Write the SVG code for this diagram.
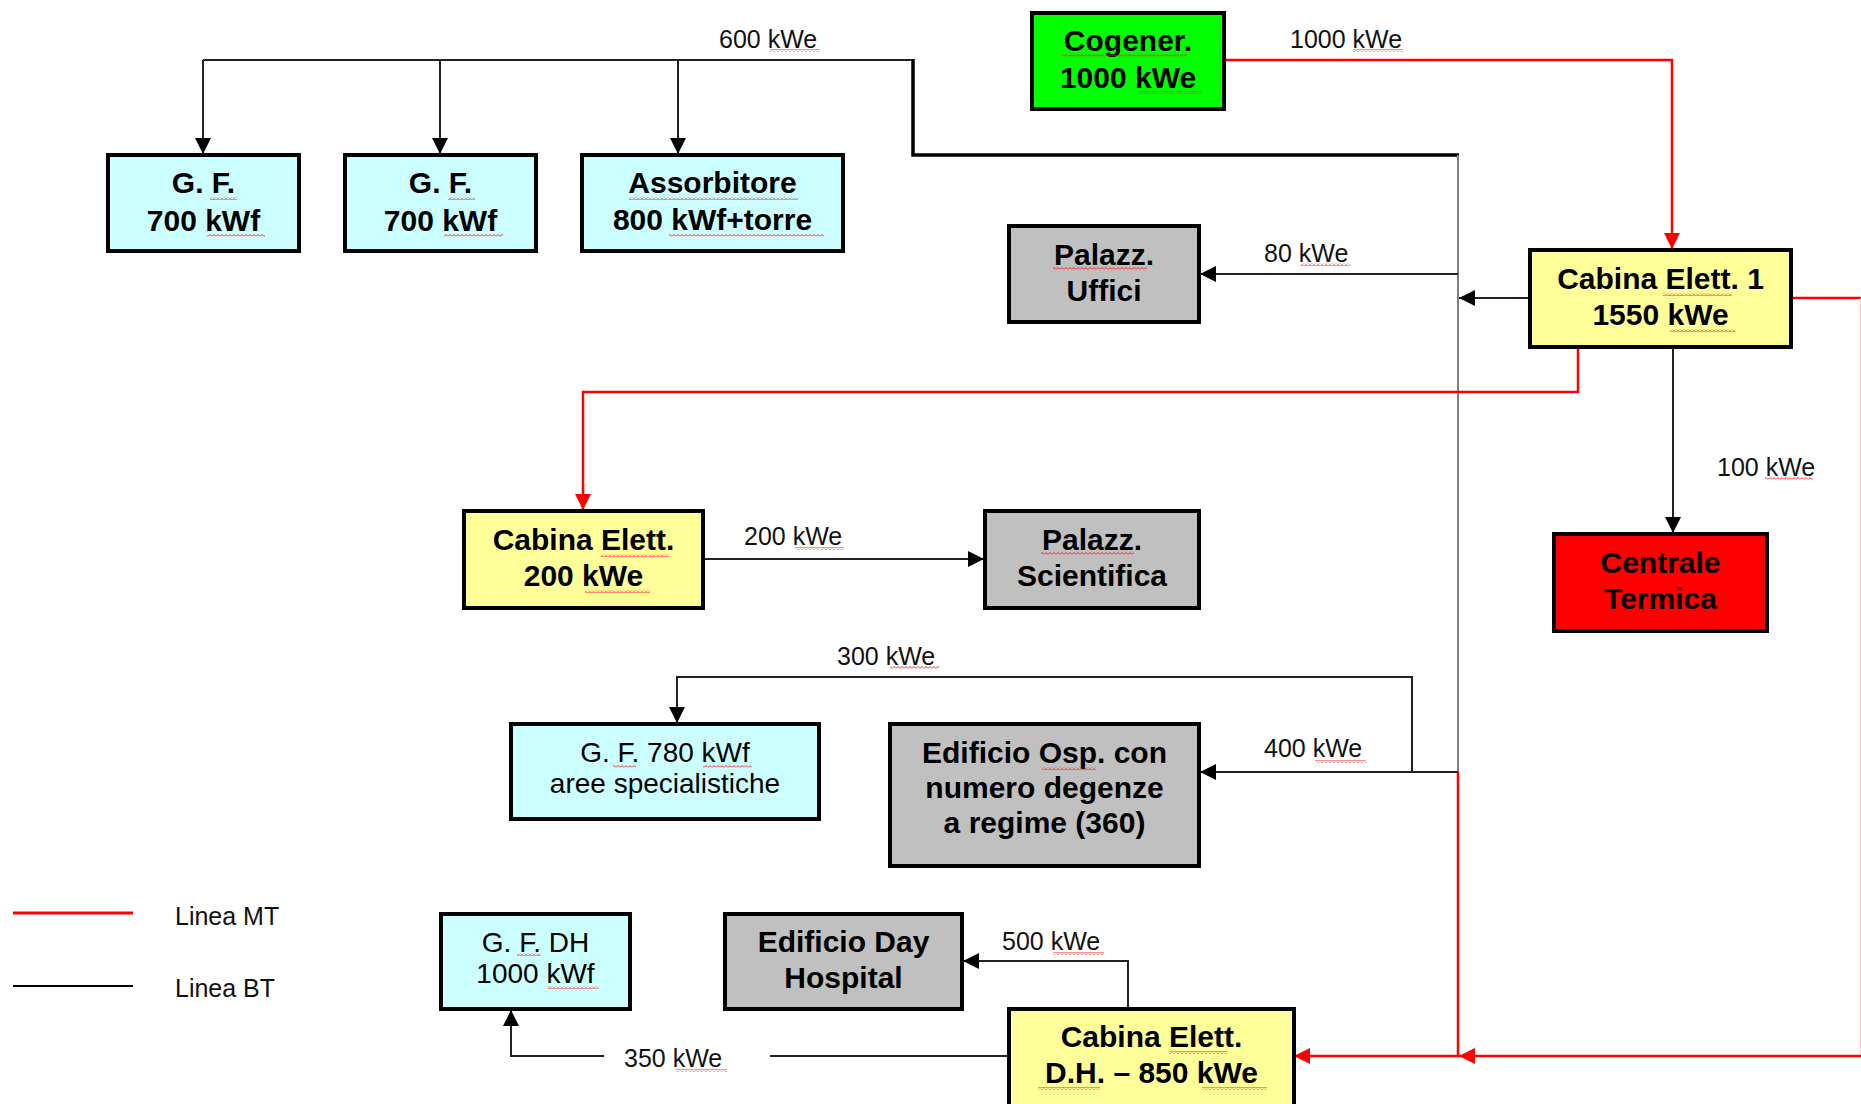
<svg xmlns="http://www.w3.org/2000/svg" width="1861" height="1104" viewBox="0 0 1861 1104">
  <style>
    .box { stroke: #000; stroke-width: 4; }
    .gf { fill: #ccffff; }
    .cog { fill: #00ff00; }
    .bld { fill: #c0c0c0; }
    .cab { fill: #ffff99; }
    .ct { fill: #ff0000; }
    .t { font-family: "Liberation Sans", Arial, sans-serif; font-weight: bold; font-size: 30px; fill: #000; text-anchor: middle; }
    .tr { font-family: "Liberation Sans", Arial, sans-serif; font-size: 28px; fill: #000; text-anchor: middle; }
    .lbl { font-family: "Liberation Sans", Arial, sans-serif; font-size: 25px; fill: #111; }
    .bt { fill: none; stroke: #222; stroke-width: 2; }
    .btg { fill: none; stroke: #808080; stroke-width: 2; }
    .btk { fill: none; stroke: #000; stroke-width: 3.5; }
    .mt { fill: none; stroke: #ff0000; stroke-width: 2.5; }
    .sq { fill: url(#wavy); }
  </style>
  <defs>
    <marker id="ab" markerUnits="userSpaceOnUse" markerWidth="16" markerHeight="16" viewBox="0 0 14 14" refX="14" refY="7" orient="auto">
      <path d="M0,0 L14,7 L0,14 Z" fill="#000"/>
    </marker>
    <marker id="ar" markerUnits="userSpaceOnUse" markerWidth="16" markerHeight="16" viewBox="0 0 14 14" refX="14" refY="7" orient="auto">
      <path d="M0,0 L14,7 L0,14 Z" fill="#ff0000"/>
    </marker>
    <pattern id="wavy" patternUnits="userSpaceOnUse" width="4" height="3">
      <path d="M0,2.5 L2,0.5 L4,2.5" fill="none" stroke="#ff2020" stroke-width="1"/>
    </pattern>
  </defs>

  <rect width="1861" height="1104" fill="#fff"/>

  <!-- connectors -->
  <g id="connectors">
    <!-- BT (low voltage) lines -->
    <path class="bt" d="M203,60 H913"/>
    <path class="bt" d="M203,60 V154" marker-end="url(#ab)"/>
    <path class="bt" d="M440,60 V154" marker-end="url(#ab)"/>
    <path class="bt" d="M678,60 V154" marker-end="url(#ab)"/>
    <path class="btk" d="M913,59 V155 H1459"/>
    <path class="btg" d="M1458,155 V772"/>
    <path class="bt" d="M1530,298 H1459" marker-end="url(#ab)"/>
    <path class="bt" d="M1458,274 H1200" marker-end="url(#ab)"/>
    <path class="bt" d="M1673,347 V533" marker-end="url(#ab)"/>
    <path class="bt" d="M703,559 H984" marker-end="url(#ab)"/>
    <path class="bt" d="M1412,772 V677 H677 V723" marker-end="url(#ab)"/>
    <path class="bt" d="M1458,772 H1200" marker-end="url(#ab)"/>
    <path class="bt" d="M1128,1008 V961 H963" marker-end="url(#ab)"/>
    <path class="bt" d="M1008,1056 H770"/>
    <path class="bt" d="M604,1056 H511 V1010" marker-end="url(#ab)"/>

    <!-- MT (medium voltage) lines -->
    <path class="mt" d="M1224,60 H1672 V249" marker-end="url(#ar)"/>
    <path class="mt" d="M1578,347 V392 H583 V510" marker-end="url(#ar)"/>
    <path class="mt" d="M1791,298 H1861"/>
    <path d="M1860.5,298 V1056" fill="none" stroke="#ffc8c8" stroke-width="1"/>
    <path class="mt" d="M1861,1056 H1459" marker-end="url(#ar)"/>
    <path class="mt" d="M1459,1056 H1294" marker-end="url(#ar)"/>
    <path class="mt" d="M1458,772 V1056"/>
  </g>

  <!-- nodes -->
  <g id="gf1">
    <rect class="box gf" x="108" y="155" width="191" height="96"/>
    <text class="t" x="203.5" y="193">G. F.</text>
    <text class="t" x="203.5" y="231">700 kWf</text>
  </g>
  <g id="gf2">
    <rect class="box gf" x="345" y="155" width="191" height="96"/>
    <text class="t" x="440.5" y="193">G. F.</text>
    <text class="t" x="440.5" y="231">700 kWf</text>
  </g>
  <g id="assorbitore">
    <rect class="box gf" x="582" y="155" width="261" height="96"/>
    <text class="t" x="712.5" y="193">Assorbitore</text>
    <text class="t" x="712.5" y="230">800 kWf+torre</text>
  </g>
  <g id="cogeneratore">
    <rect class="box cog" x="1032" y="13" width="192" height="96"/>
    <text class="t" x="1128" y="51">Cogener.</text>
    <text class="t" x="1128" y="88">1000 kWe</text>
  </g>
  <g id="palazzina-uffici">
    <rect class="box bld" x="1009" y="226" width="190" height="96"/>
    <text class="t" x="1104" y="265">Palazz.</text>
    <text class="t" x="1104" y="301">Uffici</text>
  </g>
  <g id="cabina-1">
    <rect class="box cab" x="1530" y="250" width="261" height="97"/>
    <text class="t" x="1660.5" y="289">Cabina Elett. 1</text>
    <text class="t" x="1660.5" y="325">1550 kWe</text>
  </g>
  <g id="cabina-200">
    <rect class="box cab" x="464" y="511" width="239" height="97"/>
    <text class="t" x="583.5" y="550">Cabina Elett.</text>
    <text class="t" x="583.5" y="586">200 kWe</text>
  </g>
  <g id="palazzina-scientifica">
    <rect class="box bld" x="985" y="511" width="214" height="97"/>
    <text class="t" x="1092" y="550">Palazz.</text>
    <text class="t" x="1092" y="586">Scientifica</text>
  </g>
  <g id="centrale-termica">
    <rect class="box ct" x="1554" y="534" width="213" height="97"/>
    <text class="t" x="1660.5" y="573">Centrale</text>
    <text class="t" x="1660.5" y="609">Termica</text>
  </g>
  <g id="gf-780">
    <rect class="box gf" x="511" y="724" width="308" height="95"/>
    <text class="tr" x="665" y="762">G. F. 780 kWf</text>
    <text class="tr" x="665" y="793">aree specialistiche</text>
  </g>
  <g id="edificio-ospedale">
    <rect class="box bld" x="890" y="724" width="309" height="142"/>
    <text class="t" x="1044.5" y="763">Edificio Osp. con</text>
    <text class="t" x="1044.5" y="798">numero degenze</text>
    <text class="t" x="1044.5" y="833">a regime (360)</text>
  </g>
  <g id="gf-dh">
    <rect class="box gf" x="441" y="914" width="189" height="95"/>
    <text class="tr" x="535.5" y="952">G. F. DH</text>
    <text class="tr" x="535.5" y="983">1000 kWf</text>
  </g>
  <g id="edificio-day-hospital">
    <rect class="box bld" x="725" y="914" width="237" height="95"/>
    <text class="t" x="843.5" y="952">Edificio Day</text>
    <text class="t" x="843.5" y="988">Hospital</text>
  </g>
  <g id="cabina-dh">
    <rect class="box cab" x="1009" y="1009" width="285" height="100"/>
    <text class="t" x="1151.5" y="1047">Cabina Elett.</text>
    <text class="t" x="1151.5" y="1083">D.H. – 850 kWe</text>
  </g>

  <!-- power labels -->
  <g id="labels">
    <text class="lbl" x="719" y="48">600 kWe</text>
    <text class="lbl" x="1290" y="48">1000 kWe</text>
    <text class="lbl" x="1264" y="262">80 kWe</text>
    <text class="lbl" x="744" y="545">200 kWe</text>
    <text class="lbl" x="1717" y="476">100 kWe</text>
    <text class="lbl" x="837" y="665">300 kWe</text>
    <text class="lbl" x="1264" y="757">400 kWe</text>
    <text class="lbl" x="1002" y="950">500 kWe</text>
    <text class="lbl" x="624" y="1067">350 kWe</text>
  </g>

  <!-- legend -->
  <g id="legend">
    <path d="M13,913 H133" stroke="#ff0000" stroke-width="3"/>
    <path d="M13,986 H133" stroke="#000" stroke-width="2"/>
    <text class="lbl" x="175" y="925">Linea MT</text>
    <text class="lbl" x="175" y="997">Linea BT</text>
  </g>

  <!-- spell-check underlines -->
  <g id="spellmarks">
    <rect class="sq" x="210" y="197" width="27" height="3"/>
    <rect class="sq" x="207" y="234" width="58" height="3"/>
    <rect class="sq" x="448" y="197" width="27" height="3"/>
    <rect class="sq" x="444" y="234" width="59" height="3"/>
    <rect class="sq" x="629" y="197" width="169" height="3"/>
    <rect class="sq" x="669" y="234" width="155" height="3"/>
    <rect class="sq" x="1062" y="54" width="125" height="3"/>
    <rect class="sq" x="1138" y="91" width="64" height="3"/>
    <rect class="sq" x="1353" y="49" width="50" height="3"/>
    <rect class="sq" x="770" y="49" width="50" height="3"/>
    <rect class="sq" x="1053" y="267" width="94" height="3"/>
    <rect class="sq" x="1301" y="263" width="49" height="3"/>
    <rect class="sq" x="1663" y="293" width="69" height="3"/>
    <rect class="sq" x="1670" y="329" width="65" height="3"/>
    <rect class="sq" x="601" y="554" width="68" height="3"/>
    <rect class="sq" x="585" y="590" width="65" height="3"/>
    <rect class="sq" x="795" y="547" width="49" height="3"/>
    <rect class="sq" x="1041" y="552" width="93" height="3"/>
    <rect class="sq" x="1765" y="477" width="48" height="3"/>
    <rect class="sq" x="890" y="666" width="49" height="3"/>
    <rect class="sq" x="613" y="765" width="23" height="3"/>
    <rect class="sq" x="703" y="765" width="49" height="3"/>
    <rect class="sq" x="1042" y="767" width="54" height="3"/>
    <rect class="sq" x="1315" y="760" width="51" height="3"/>
    <rect class="sq" x="517" y="953" width="24" height="3"/>
    <rect class="sq" x="547" y="986" width="51" height="3"/>
    <rect class="sq" x="1053" y="952" width="51" height="3"/>
    <rect class="sq" x="676" y="1069" width="51" height="3"/>
    <rect class="sq" x="1169" y="1051" width="58" height="3"/>
    <rect class="sq" x="1038" y="1087" width="62" height="3"/>
    <rect class="sq" x="1202" y="1087" width="65" height="3"/>
  </g>
</svg>
